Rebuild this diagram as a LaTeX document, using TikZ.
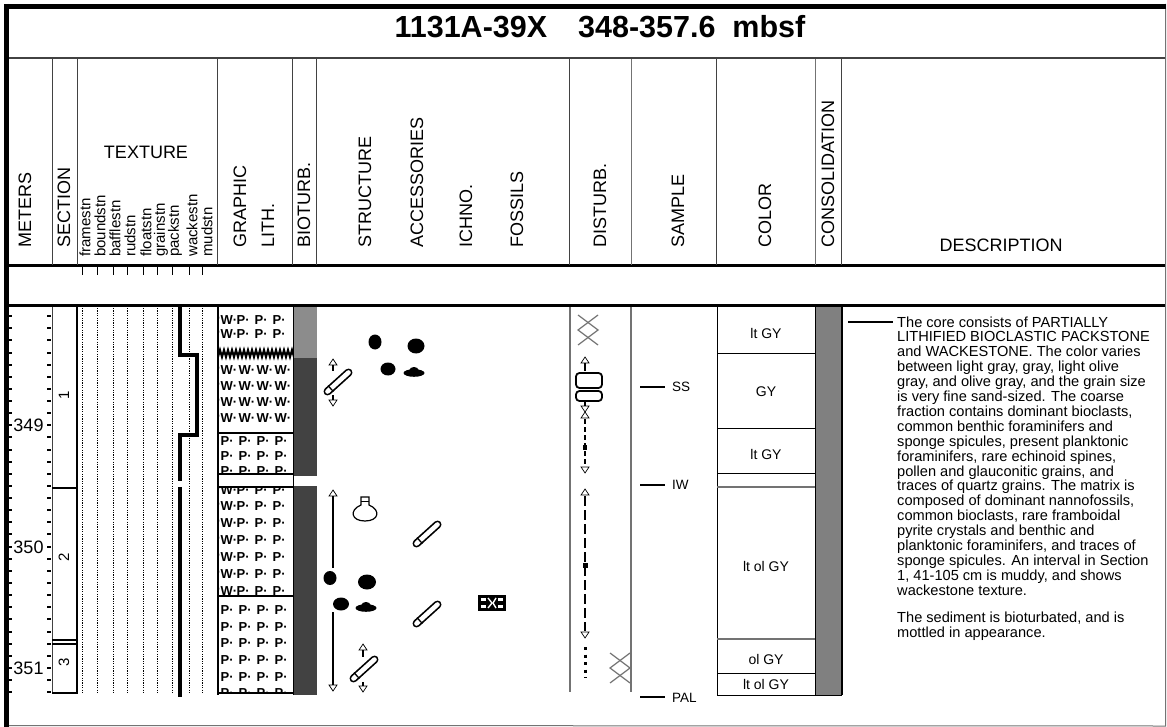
\documentclass[tikz,border=0pt]{standalone}
\usepackage{fontspec}
\setmainfont{Liberation Sans}
\usetikzlibrary{calc}
\definecolor{lgray}{gray}{0.55}
\definecolor{dgray}{gray}{0.26}
\definecolor{lgline}{gray}{0.45}
\tikzset{
  hdr/.style={rotate=90, anchor=west, inner sep=0pt, font=\fontsize{18}{18}\selectfont},
  sublab/.style={rotate=90, anchor=west, inner sep=0pt, font=\fontsize{15}{15}\selectfont},
  meter/.style={inner sep=0pt, font=\fontsize{18}{18}\selectfont},
  secno/.style={rotate=90, inner sep=0pt, font=\fontsize{15}{15}\selectfont},
  desc/.style={anchor=base west, inner sep=0pt, font=\fontsize{14.6}{15}\selectfont},
  smp/.style={anchor=west, inner sep=0pt, font=\fontsize{13.5}{14}\selectfont},
  col/.style={inner sep=0pt, font=\fontsize{14}{14}\selectfont},
  pat/.style={anchor=west, inner sep=0pt, font=\bfseries\fontsize{13}{13}\selectfont},
  tick/.style={line width=2},
  vline/.style={line width=1},
  uptri/.pic={\draw[line width=0.7, fill=white] (-4,3) -- (4,3) -- (0,-3) -- cycle;},
  dntri/.pic={\draw[line width=0.7, fill=white] (-4,-3) -- (4,-3) -- (0,3) -- cycle;},
  tube/.pic={\draw[line width=8, line cap=round] (-10.5,9.5) -- (10.5,-9.5);
             \draw[white, line width=4.6, line cap=round] (-10.5,9.5) -- (10.5,-9.5);
             \draw[line width=1.3] (-10,3.6) -- (-4.6,9.6);},
  xx/.pic={\draw[lgline, line width=1.2] (-10,-15) -- (10,0) -- (-10,15);
           \draw[lgline, line width=1.2] (10,-15) -- (-10,0) -- (10,15);},
}
\begin{document}
\begin{tikzpicture}[x=1pt, y=-1pt, line join=miter]
\useasboundingbox (0,0) rectangle (1167,727);
\fill[white] (0,0) rectangle (1167,727);

% ---------- frame ----------
\draw[lgline, line width=1] (1165.5,4) -- (1165.5,726) -- (6,725.5);
\draw[line width=5] (4,6.5) -- (1166,6.5);
\draw[line width=5] (6.5,4) -- (6.5,727);
\draw[dgray, line width=2] (9,58) -- (1165,58);
\draw[line width=3] (9,266) -- (1165,266);
\draw[line width=3] (9,306) -- (1165,306);

% ---------- title ----------
\node[font=\bfseries\fontsize{30.5}{30.5}\selectfont, inner sep=0pt] (title) at (600,27)
  {1131A-39X\hspace{31pt}348-357.6\hspace{17pt}mbsf};

% ---------- header verticals ----------
\foreach \x in {52,77,217,292,316,569,716,841} \draw[dgray, vline] (\x,59) -- (\x,265);
\foreach \x in {631,815} \draw[lgline, vline] (\x,59) -- (\x,265);

% ---------- header labels ----------
\node[hdr] (hmeters) at (25,248) {METERS};
\node[hdr] (hsection) at (64,248) {SECTION};
\node[inner sep=0pt, font=\fontsize{18}{18}\selectfont] (htexture) at (146,152) {TEXTURE};
\node[sublab] (t1) at (85,257) {framestn};
\node[sublab] (t2) at (100,257) {boundstn};
\node[sublab] (t3) at (115,257) {bafflestn};
\node[sublab] (t4) at (130,257) {rudstn};
\node[sublab] (t5) at (146,257) {floatstn};
\node[sublab] (t6) at (161,257) {grainstn};
\node[sublab] (t7) at (175,257) {packstn};
\node[sublab] (t8) at (192,257) {wackestn};
\node[sublab] (t9) at (207,257) {mudstn};
\node[hdr] (hgraphic) at (240,248) {GRAPHIC};
\node[hdr] (hlith) at (268,248) {LITH.};
\node[hdr] (hbio) at (304,248) {BIOTURB.};
\node[hdr] (hstruct) at (365,248) {STRUCTURE};
\node[hdr] (hacc) at (417,248) {ACCESSORIES};
\node[hdr] (hichno) at (466,248) {ICHNO.};
\node[hdr] (hfoss) at (517,248) {FOSSILS};
\node[hdr] (hdist) at (600,248) {DISTURB.};
\node[hdr] (hsample) at (678,248) {SAMPLE};
\node[hdr] (hcolor) at (765,248) {COLOR};
\node[hdr] (hcons) at (828,248) {CONSOLIDATION};
\node[inner sep=0pt, font=\fontsize{18}{18}\selectfont] (hdesc) at (1001,245) {DESCRIPTION};

% texture ticks in spacer row
\foreach \x in {82,97,113,127,143,157,172,189,202} \draw[line width=0.8] (\x,267) -- (\x,275);

% ---------- meters ----------
\foreach \i in {1,...,32} {
  \pgfmathsetmacro\yy{304+12.13*\i}
  \draw[tick] (8,\yy) -- (12,\yy);
  \draw[tick] (47,\yy) -- (51,\yy);
}
\node[meter] (m349) at (28.5,425) {349};
\node[meter] (m350) at (28.5,547) {350};
\node[meter] (m351) at (28.5,668) {351};

% ---------- section ----------
\draw[dgray, line width=1] (52,307) -- (52,693);
\draw[line width=2.5] (77,307) -- (77,694);
\draw[line width=2] (52,488) -- (77,488);
\draw[line width=2] (52,640) -- (77,640);
\draw[line width=2] (52,644) -- (77,644);
\draw[line width=2] (52,693) -- (77,693);
\node[secno] (s1) at (64,395) {1};
\node[secno] (s2) at (64,557) {2};
\node[secno] (s3) at (64,662) {3};

% ---------- texture ----------
\foreach \x in {82,97,113,127,143,157,172,189,202}
  \draw[line width=0.8, dash pattern=on 1.2pt off 1.2pt] (\x,308) -- (\x,693);
\draw[line width=3.5] (180,307) -- (180,355) -- (197,355) -- (197,435) -- (180,435) -- (180,481);
\draw[line width=3.5] (180,487) -- (180,697);

% ---------- graphic lithology ----------
\begin{scope}
  \clip (218,307) rectangle (293,349);
  \foreach \yy in {320,334} {
    \node[pat] at (216.5,\yy) {·};
    \node[pat] at (220.5,\yy) {W·};
    \foreach \i in {1,2,3} \node[pat] at (218.5+18*\i,\yy) {P·};
  }
\end{scope}
\draw[line width=2] (218,357) \foreach \k in {0,...,18} { -- ++(2,-7) -- ++(2,7) };
\begin{scope}
  \clip (218,358) rectangle (293,433);
  \foreach \yy in {370,386,402,418} {
    \node[pat] at (216.5,\yy) {·};
    \foreach \i in {0,1,2,3} \node[pat] at (220.5+18*\i,\yy) {W·};
  }
\end{scope}
\begin{scope}
  \clip (218,434) rectangle (293,474);
  \foreach \yy in {441,456,471} {
    \foreach \i in {0,1,2,3} \node[pat] at (220.5+18*\i,\yy) {P·};
  }
\end{scope}
\begin{scope}
  \clip (218,487) rectangle (293,596);
  \foreach \yy in {490,506,523,540,557,574,591} {
    \node[pat] at (216.5,\yy) {·};
    \node[pat] at (220.5,\yy) {W·};
    \foreach \i in {1,2,3} \node[pat] at (218.5+18*\i,\yy) {P·};
  }
\end{scope}
\begin{scope}
  \clip (218,597) rectangle (293,693);
  \foreach \yy in {610,627,643,660,677,693} {
    \foreach \i in {0,1,2,3} \node[pat] at (220.5+18*\i,\yy) {P·};
  }
\end{scope}
\foreach \yy in {433,474,487,596,693} \draw[line width=1.3] (218,\yy) -- (293,\yy);
\draw[line width=2.5] (218,307) -- (218,695);

% ---------- bioturbation ----------
\fill[lgray] (293,307) rectangle (317,358);
\fill[dgray] (293,358) rectangle (317,476);
\fill[dgray] (293,486) rectangle (317,695);
\draw[line width=1] (293,307) -- (293,695);

% ---------- structure / accessories / fossils ----------
\fill (375,342) ellipse [x radius=6.5pt, y radius=7.5pt];
\fill (416,346) ellipse [x radius=8.5pt, y radius=7.5pt];
\fill (388,369) ellipse [x radius=7.5pt, y radius=6.5pt];
\fill (414,373) ellipse [x radius=10.5pt, y radius=3.8pt];
\fill (414,370) ellipse [x radius=4.5pt, y radius=3pt];
\fill (330,578) ellipse [x radius=6.5pt, y radius=7pt];
\fill (367,582) ellipse [x radius=9pt, y radius=7.5pt];
\fill (341,604) ellipse [x radius=8pt, y radius=6.5pt];
\fill (366,608) ellipse [x radius=10.5pt, y radius=3.8pt];
\fill (366,605) ellipse [x radius=4.5pt, y radius=3pt];

\pic (a1) at (333,362) {uptri};
\draw[line width=1.5] (333,365) -- (333,371);
\pic (tb1) at (338,382) {tube};
\draw[line width=1.5] (333,395) -- (333,400);
\pic (a2) at (333,403) {dntri};

\pic (a3) at (333,493) {uptri};
\draw[line width=1.5] (333,496) -- (333,568);
\draw[line width=1.5] (333,612) -- (333,685);
\pic (a4) at (333,688) {dntri};

\draw[line width=1.2] (361,497) -- (369,497) -- (369,505)
  .. controls (381,510) and (379,521) .. (365,521)
  .. controls (351,521) and (349,510) .. (361,505) -- cycle;
\draw[line width=1] (361,501) -- (369,501);

\pic (tb2) at (427,534) {tube};
\pic (tb3) at (427,614) {tube};

\fill (478,595) rectangle (506,611);
\fill[white] (481,598) rectangle (486,601);
\fill[white] (481,605) rectangle (486,608);
\fill[white] (498,598) rectangle (503,601);
\fill[white] (498,605) rectangle (503,608);
\draw[white, line width=1.4] (488,598) -- (492,603) -- (488,608);
\draw[white, line width=1.4] (496,598) -- (493,603) -- (496,608);

\pic (a5) at (363,647) {uptri};
\draw[line width=1.5] (363,650) -- (363,657);
\pic (tb4) at (364,669) {tube};
\draw[line width=1.5] (363,682) -- (363,686);
\pic (a6) at (363,689) {dntri};

% ---------- disturbance ----------
\draw[lgline, line width=2] (570,307) -- (570,692);
\pic (x1) at (588,330) {xx};
\pic (d1) at (585,360) {uptri};
\draw[line width=1.5] (585,363) -- (585,371);
\draw[line width=1.8, rounded corners=3.5] (576,373) rectangle (602,388);
\draw[line width=1.8, rounded corners=3.5] (576,391) rectangle (602,401);
\draw[line width=1.5] (585,402) -- (585,406);
\pic (d2) at (585,409) {dntri};
\pic (d3) at (585,415) {uptri};
\draw[line width=1.4, dash pattern=on 5pt off 3pt] (585,419) -- (585,466);
\fill (583,445) rectangle (587,450);
\pic (d4) at (585,470) {dntri};
\pic (d5) at (585,492) {uptri};
\draw[line width=2.5, dash pattern=on 10pt off 4pt] (585,496) -- (585,631);
\fill (582.5,563) rectangle (587.5,568);
\pic (d6) at (585,635) {dntri};
\draw[line width=3, dash pattern=on 3pt off 4.5pt] (585,647) -- (585,678);
\pic (x2) at (620,668) {xx};

% ---------- sample ----------
\draw[lgline, line width=2] (631,307) -- (631,692);
\draw[line width=2] (640,387) -- (665,387);
\node[smp] (ss) at (672,387) {SS};
\draw[line width=2] (640,485) -- (665,485);
\node[smp] (iw) at (672,485) {IW};
\draw[line width=2] (640,697) -- (665,697);
\node[smp] (pal) at (672,698) {PAL};

% ---------- colour ----------
\draw[line width=1] (717,307) rectangle (815,695);
\foreach \yy in {353,428,473,673} \draw[line width=1] (717,\yy) -- (815,\yy);
\foreach \yy in {487,639} \draw[lgline, line width=1.8] (717,\yy) -- (815,\yy);
\node[col] (c1) at (766,333) {lt GY};
\node[col] (c2) at (766,392) {GY};
\node[col] (c3) at (766,454) {lt GY};
\node[col] (c4) at (766,566) {lt ol GY};
\node[col] (c5) at (766,659) {ol GY};
\node[col] (c6) at (766,684) {lt ol GY};

% ---------- consolidation ----------
\fill[gray] (815,307) rectangle (841,695);
\draw[line width=1] (815,307) rectangle (841,695);
\draw[line width=1.5] (842,307) -- (842,695);

% ---------- description ----------
\coordinate (lead) at (848,322);
\draw[line width=2] (lead) -- ++(45,0);
\node[desc] (l1) at (897,327.0) {The core consists of PARTIALLY};
\node[desc] (l2) at (897,341.9) {LITHIFIED BIOCLASTIC PACKSTONE};
\node[desc] (l3) at (897,356.8) {and WACKESTONE. The color varies};
\node[desc] (l4) at (897,371.7) {between light gray, gray, light olive};
\node[desc] (l5) at (897,386.6) {gray, and olive gray, and the grain size};
\node[desc] (l6) at (897,401.5) {is very fine sand-sized. The coarse};
\node[desc] (l7) at (897,416.4) {fraction contains dominant bioclasts,};
\node[desc] (l8) at (897,431.3) {common benthic foraminifers and};
\node[desc] (l9) at (897,446.2) {sponge spicules, present planktonic};
\node[desc] (l10) at (897,461.1) {foraminifers, rare echinoid spines,};
\node[desc] (l11) at (897,476.0) {pollen and glauconitic grains, and};
\node[desc] (l12) at (897,490.9) {traces of quartz grains. The matrix is};
\node[desc] (l13) at (897,505.8) {composed of dominant nannofossils,};
\node[desc] (l14) at (897,520.7) {common bioclasts, rare framboidal};
\node[desc] (l15) at (897,535.6) {pyrite crystals and benthic and};
\node[desc] (l16) at (897,550.5) {planktonic foraminifers, and traces of};
\node[desc] (l17) at (897,565.4) {sponge spicules. An interval in Section};
\node[desc] (l18) at (897,580.3) {1, 41-105 cm is muddy, and shows};
\node[desc] (l19) at (897,595.2) {wackestone texture.};
\node[desc] (l20) at (897,622.0) {The sediment is bioturbated, and is};
\node[desc] (l21) at (897,637.0) {mottled in appearance.};
\end{tikzpicture}
\end{document}
